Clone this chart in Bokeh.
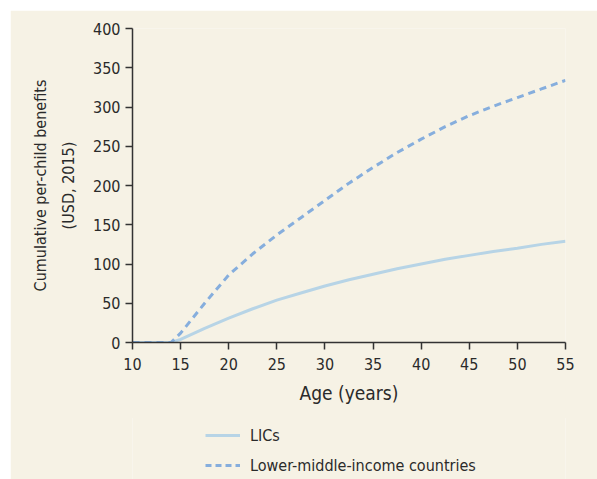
from bokeh.plotting import figure
from bokeh.models import Legend, LegendItem, FixedTicker, Range1d
from bokeh.layouts import column
from bokeh.embed import file_html
from bokeh.resources import INLINE

FONT = "DejaVu Sans Condensed"
TEXT = "#2a2a2a"
BG = "#f6f2e5"
LIC_COLOR = "#b7d4e6"
LMIC_COLOR = "#86aedd"

ages = [10, 14, 15, 17.5, 20, 22.5, 25, 27.5, 30, 32.5, 35, 37.5, 40, 42.5, 45, 47.5, 50, 52.5, 55]
lics = [0, 0, 4, 18, 31, 43, 54, 63, 72, 80, 87, 94, 100, 106, 111, 116, 120, 125, 129]
lmic = [0, 0, 12, 50, 86, 113, 137, 159, 181, 203, 223, 242, 259, 275, 289, 301, 312, 323, 334]

x_ticks = [10, 15, 20, 25, 30, 35, 40, 45, 50, 55]
y_ticks = [0, 50, 100, 150, 200, 250, 300, 350, 400]
series_names = ["LICs", "Lower-middle-income countries"]

p = figure(width=587, height=408, output_backend="svg", toolbar_location=None,
           x_range=Range1d(10, 55), y_range=Range1d(0, 400),
           min_border_left=122, min_border_top=18, min_border_right=32, min_border_bottom=76,
           background_fill_color=BG, border_fill_color=BG, outline_line_color=None,
           margin=(10, 0, 0, 10))

p.xgrid.visible = False
p.ygrid.visible = False

p.line(ages, lics, line_color=LIC_COLOR, line_width=3)
p.line(ages, lmic, line_color=LMIC_COLOR, line_width=3, line_dash="7 5")

for ax in (p.xaxis[0], p.yaxis[0]):
    ax.axis_line_color = "#333333"
    ax.axis_line_width = 1.5
    ax.major_tick_line_color = "#333333"
    ax.major_tick_line_width = 1.5
    ax.major_tick_in = 0
    ax.major_tick_out = 7
    ax.minor_tick_line_color = None
    ax.major_label_text_font = FONT
    ax.major_label_text_font_size = "16px"
    ax.major_label_text_color = TEXT
    ax.axis_label_text_font = FONT
    ax.axis_label_text_font_style = "normal"
    ax.axis_label_text_color = TEXT

p.xaxis.ticker = FixedTicker(ticks=x_ticks)
p.yaxis.ticker = FixedTicker(ticks=y_ticks)
p.xaxis.major_label_standoff = 8
p.yaxis.major_label_standoff = 5
p.xaxis.axis_label = "Age (years)"
p.xaxis.axis_label_text_font_size = "19px"
p.xaxis.axis_label_standoff = 9
p.yaxis.axis_label = "Cumulative per-child benefits\n(USD, 2015)"
p.yaxis.axis_label_text_font_size = "16px"
p.yaxis.axis_label_standoff = 12
p.yaxis.axis_label_text_line_height = 1.45

# legend panel below the chart (its frame is aligned with the chart's frame)
pl = figure(width=587, height=62, output_backend="svg", toolbar_location=None,
            x_range=Range1d(-100, -99), y_range=Range1d(-100, -99),
            x_axis_type=None, y_axis_type=None,
            min_border_left=0, min_border_right=0, min_border_top=0, min_border_bottom=0,
            background_fill_color=BG, border_fill_color=BG, outline_line_color=None,
            margin=(-1, 0, 0, 10))
pl.xgrid.visible = False
pl.ygrid.visible = False
l1 = pl.line(ages, lics, line_color=LIC_COLOR, line_width=3)
l2 = pl.line(ages, lmic, line_color=LMIC_COLOR, line_width=3, line_dash="6 4")

legend = Legend(items=[LegendItem(label=series_names[0], renderers=[l1]),
                       LegendItem(label=series_names[1], renderers=[l2])],
                location=(73, 2), orientation="vertical",
                glyph_width=35, glyph_height=24, label_height=24, spacing=6,
                label_standoff=10, padding=0, margin=0,
                border_line_color=None, background_fill_alpha=0,
                label_text_font=FONT, label_text_font_size="16px", label_text_color=TEXT)
pl.add_layout(legend, "center")

layout = column(p, pl, spacing=0)
open("out.html", "w").write(file_html(layout, INLINE))
